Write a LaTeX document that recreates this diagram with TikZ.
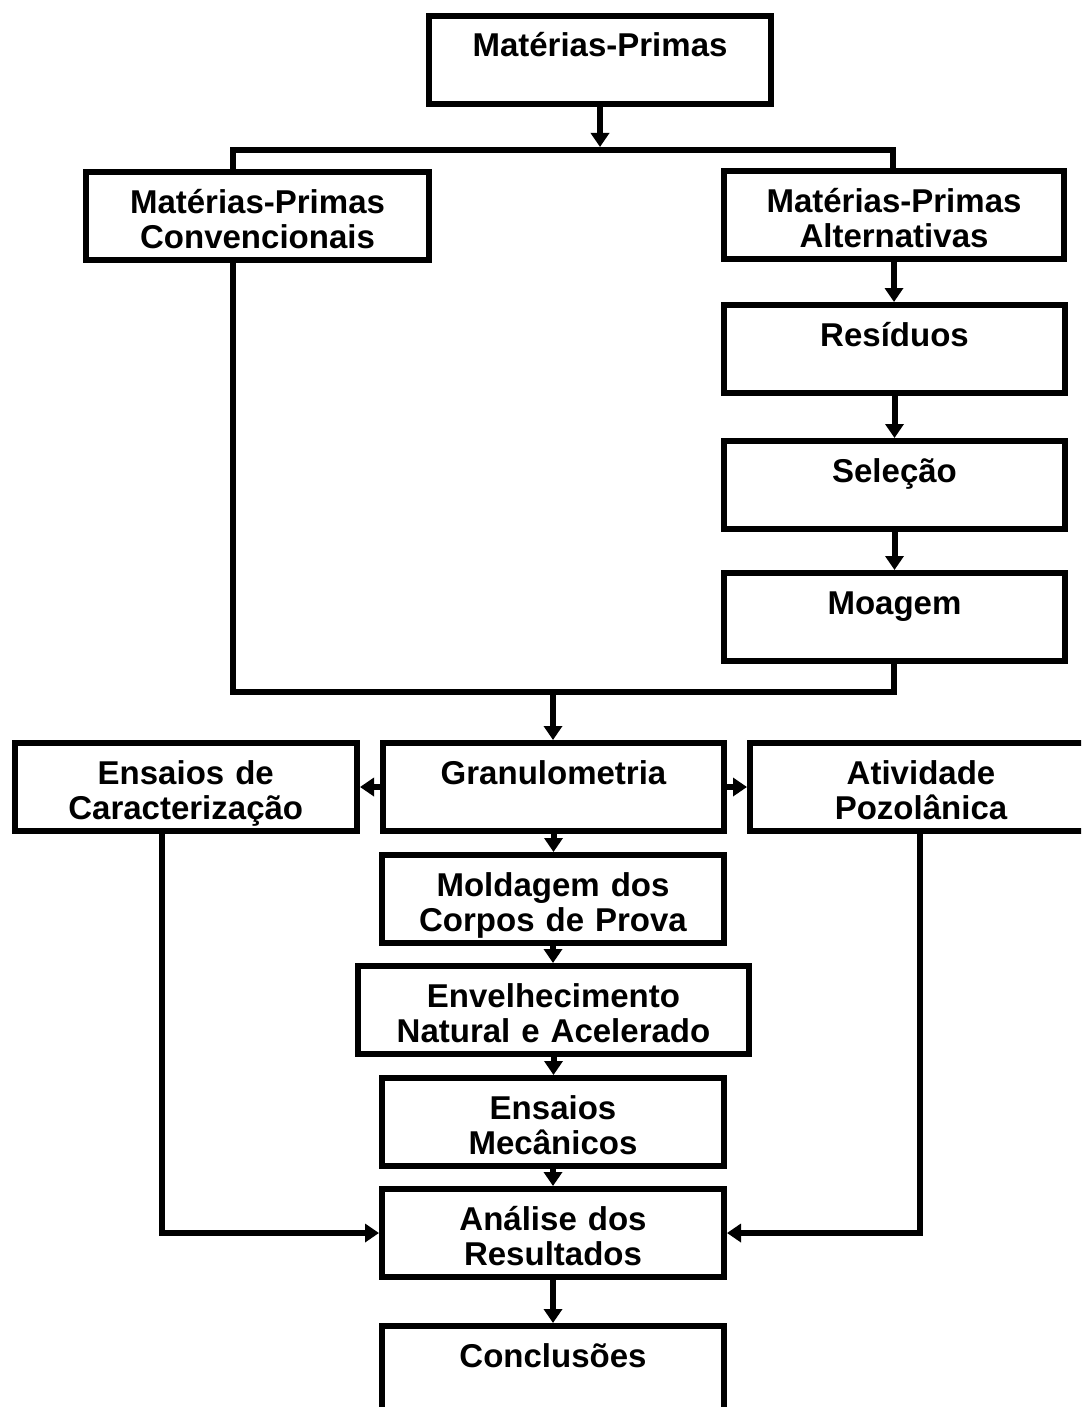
\documentclass[tikz,border=0pt]{standalone}
\usepackage{fontspec}
\setmainfont{Liberation Sans}
\usetikzlibrary{arrows.meta}
\tikzset{
  bx/.style={draw, line width=6pt, inner sep=0pt, align=center,
    font=\fontsize{33}{35}\selectfont\bfseries,
    text height=41pt, text depth=47pt, anchor=center},
  ln/.style={line width=6pt, line join=miter},
  arr/.style={line width=6pt, line join=miter, -{Triangle[length=14pt,width=18pt]}},
}
\begin{document}
\begin{tikzpicture}[x=1pt,y=-1pt]
\useasboundingbox (0,0) rectangle (1081,1407);
\clip (0,0) rectangle (1081,1407);
% boxes
\node[bx, text width=342pt] (mp)   at (600,60)      {Matérias-Primas};
\node[bx, text width=343pt] (conv) at (257.5,216)   {Matérias-Primas\\Convencionais};
\node[bx, text width=340pt] (alt)  at (894,215)     {Matérias-Primas\\Alternativas};
\node[bx, text width=341pt] (res)  at (894.5,349)   {Resíduos};
\node[bx, text width=341pt] (sel)  at (894.5,485)   {Seleção};
\node[bx, text width=341pt] (moa)  at (894.5,617)   {Moagem};
\node[bx, text width=341pt] (gran) at (553.5,787)   {Granulometria};
\node[bx, text width=342.5pt] (ens) at (185.75,787) {Ensaios de\\Caracterização};
\node[bx, text width=342pt] (ativ) at (921,787)     {Atividade\\Pozolânica};
\node[bx, text width=342pt] (mold) at (553,899)     {Moldagem dos\\Corpos de Prova};
\node[bx, text width=391pt] (env)  at (553.5,1010)  {Envelhecimento\\Natural e Acelerado};
\node[bx, text width=342pt] (mec)  at (553,1122)    {Ensaios\\Mecânicos};
\node[bx, text width=342pt] (ana)  at (553,1233)    {Análise dos\\Resultados};
\node[bx, text width=342pt] (conc) at (553,1370)    {Conclusões};
% junction coordinates
\coordinate (jt) at (600,147);
\coordinate (jl) at (233,150);
\coordinate (jr) at (893,150);
\coordinate (bl) at (233,692);
\coordinate (br) at (894,692);
\coordinate (bm) at (553,692);
\coordinate (lx) at (162,0);
\coordinate (rx) at (920,0);
% connectors
\draw[arr] (mp.south) -- (jt);
\draw[ln] (conv.north -| jl) -- (jl) -- (jr) -- (alt.north -| jr);
\draw[ln] (conv.south -| bl) -- (bl) -- (br) -- (moa.south -| br);
\draw[arr] (alt.south) -- (alt.south |- res.north);
\draw[arr] (res.south) -- (sel.north);
\draw[arr] (sel.south) -- (moa.north);
\draw[arr] (bm) -- (gran.north -| bm);
\draw[arr] (gran.west) -- (ens.east);
\draw[arr] (gran.east) -- (ativ.west);
\draw[arr] (gran.south) -- (gran.south |- mold.north);
\draw[arr] (mold.south) -- (mold.south |- env.north);
\draw[arr] (env.south) -- (env.south |- mec.north);
\draw[arr] (mec.south) -- (mec.south |- ana.north);
\draw[arr] (ana.south) -- (conc.north);
\draw[arr] (ens.south -| lx) |- (ana.west);
\draw[arr] (ativ.south -| rx) |- (ana.east);
\end{tikzpicture}
\end{document}
